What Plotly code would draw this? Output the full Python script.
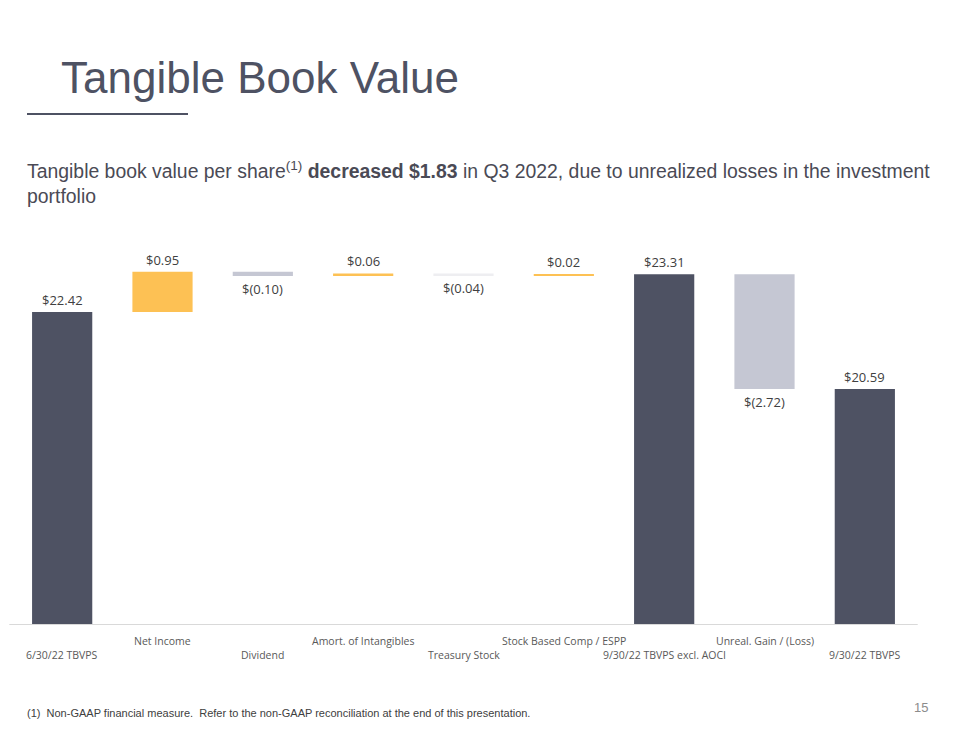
import plotly.graph_objects as go

categories = ["6/30/22 TBVPS", "Net Income", "Dividend", "Amort. of Intangibles",
              "Treasury Stock", "Stock Based Comp / ESPP", "9/30/22 TBVPS excl. AOCI",
              "Unreal. Gain / (Loss)", "9/30/22 TBVPS"]
values = [22.42, 0.95, -0.10, 0.06, -0.04, 0.02, 23.31, -2.72, 20.59]
measures = ["total", "relative", "relative", "relative", "relative", "relative",
            "total", "relative", "total"]
labels = ["$22.42", "$0.95", "$(0.10)", "$0.06", "$(0.04)", "$0.02", "$23.31", "$(2.72)", "$20.59"]

DARK = "#4E5263"
GOLD = "#FDC154"
GRAY = "#C5C7D3"
FAINT = "#EEEEF1"
AXIS_MIN = 15.0

bases, tops, colors = [], [], []
running = 0.0
for i, (v, m) in enumerate(zip(values, measures)):
    if m == "total":
        running = v
        bases.append(AXIS_MIN)
        tops.append(v)
        colors.append(DARK)
    else:
        start = running
        running = running + v
        bases.append(min(start, running))
        tops.append(max(start, running))
        colors.append(GOLD if v > 0 else (FAINT if categories[i] == "Treasury Stock" else GRAY))

xs = list(range(len(categories)))
fig = go.Figure()
fig.add_trace(go.Bar(
    x=xs, y=[t - b for t, b in zip(tops, bases)], base=bases,
    marker=dict(color=colors, line=dict(width=0)),
    width=0.6, hoverinfo="skip", showlegend=False,
))

ann = []
LBL = dict(family="Open Sans", size=13, color="#404040")
for i, (v, m, lab) in enumerate(zip(values, measures, labels)):
    if m == "total" or v > 0:
        ann.append(dict(x=i, y=tops[i], xref="x", yref="y", text=lab, showarrow=False,
                        yanchor="bottom", yshift=1, font=LBL))
    else:
        ann.append(dict(x=i, y=bases[i], xref="x", yref="y", text=lab, showarrow=False,
                        yanchor="top", yshift=-2, font=LBL))

for i, c in enumerate(categories):
    upper = (i % 2 == 1)
    ann.append(dict(x=i, y=0, xref="x", yref="paper", text=c, showarrow=False,
                    yanchor="middle", yshift=-16 if upper else -30,
                    font=dict(family="Open Sans", size=10.5, color="#595959")))

# Title and texts (pixel positions, converted below)
ann.append(dict(x=59, y=741 - 78, xref="paper", yref="paper", text="Tangible Book Value",
                showarrow=False, xanchor="left", yanchor="middle",
                font=dict(family="Liberation Sans", size=44, color="#4E5263")))
ann.append(dict(x=25, y=741 - 182, xref="paper", yref="paper",
                text="Tangible book value per share<sup>(1)</sup> <b>decreased $1.83</b> in Q3 2022, due to unrealized losses in the investment<br>portfolio",
                showarrow=False, xanchor="left", yanchor="middle", align="left",
                font=dict(family="Liberation Sans", size=19.4, color="#4A4A55")))
ann.append(dict(x=25, y=741 - 713, xref="paper", yref="paper",
                text="(1)  Non-GAAP financial measure.  Refer to the non-GAAP reconciliation at the end of this presentation.",
                showarrow=False, xanchor="left", yanchor="middle",
                font=dict(family="Liberation Sans", size=11, color="#404040")))
ann.append(dict(x=930, y=741 - 707, xref="paper", yref="paper", text="15",
                showarrow=False, xanchor="right", yanchor="middle",
                font=dict(family="Liberation Sans", size=13, color="#8C8C8C")))

L, R, T, B = 12, 45, 230, 116
W, H = 960, 741
pw, ph = W - L - R, H - T - B
for a in ann:
    if a["xref"] == "paper" and a["yref"] == "paper" and a["x"] > 1:
        a["x"] = (a["x"] - L) / pw
        a["y"] = (a["y"] - B) / ph

shapes = [
    dict(type="line", xref="paper", yref="paper",
         x0=(27 - L) / pw, x1=(188 - L) / pw, y0=(741 - 114 - B) / ph, y1=(741 - 114 - B) / ph,
         line=dict(color="#4E5263", width=2)),
    dict(type="line", xref="paper", yref="y", x0=-0.003, x1=1.003, y0=AXIS_MIN, y1=AXIS_MIN,
         line=dict(color="#D9D9D9", width=2), layer="above"),
]

fig.update_layout(
    width=W, height=H,
    margin=dict(l=L, r=R, t=T, b=B, pad=0),
    paper_bgcolor="white", plot_bgcolor="white",
    xaxis=dict(range=[-0.5, 8.5], showticklabels=False, showgrid=False, zeroline=False,
               showline=False, ticks=""),
    yaxis=dict(range=[AXIS_MIN, AXIS_MIN + 395 / 42.2], showticklabels=False, showgrid=False,
               zeroline=False, showline=False, ticks=""),
    annotations=ann, shapes=shapes,
)

fig.write_html("out.html")
